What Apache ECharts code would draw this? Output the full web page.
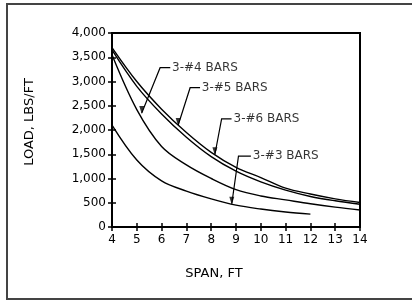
<!DOCTYPE html>
<html>
<head>
<meta charset="utf-8">
<script src="https://cdn.jsdelivr.net/npm/echarts@6/dist/echarts.min.js"></script>
<style>
html, body { margin: 0; padding: 0; background: #fff; overflow: hidden; }
#chart { width: 412px; height: 304px; }
</style>
</head>
<body>
<div id="chart"></div>
<script>
// span (ft) and load (lbs/ft)
var spans = [4, 5, 6, 7, 8, 9, 10, 11, 12, 13, 14];
var bars6 = [3700, 3000, 2430, 1950, 1540, 1230, 1020, 800, 680, 580, 505];
var bars5 = [3650, 2900, 2330, 1850, 1450, 1150, 930, 760, 630, 540, 470];
var bars4 = [3550, 2420, 1660, 1280, 1000, 770, 640, 560, 480, 410, 350];
var bars3 = [2100, 1380, 950, 740, 580, 450, 370, 310, 265];

var yTicks = [0, 500, 1000, 1500, 2000, 2500, 3000, 3500, 4000];

// callout leaders: text end -> corner -> point on curve
var leader4 = [[6.35, 3285], [5.94, 3285], [5.2, 2350]];
var leader5 = [[7.55, 2872], [7.15, 2872], [6.67, 2103]];
var leader6 = [[8.82, 2230], [8.42, 2230], [8.15, 1500]];
var leader3 = [[9.6, 1460], [9.1, 1460], [8.83, 480]];
var callouts = [
    [6.42, 3285, '3-#4 BARS'],
    [7.62, 2872, '3-#5 BARS'],
    [8.9, 2230, '3-#6 BARS'],
    [9.68, 1460, '3-#3 BARS']
];

var font = 'DejaVu Sans';

function pairs(ys) {
    var out = [];
    for (var i = 0; i < ys.length; i++) {
        out.push([spans[i], ys[i]]);
    }
    return out;
}

function curve(name, ys) {
    return {
        name: name,
        type: 'line',
        data: pairs(ys),
        smooth: 0.35,
        symbol: 'none',
        lineStyle: { color: '#000', width: 1.4 },
        silent: true
    };
}

var leaders = [leader4, leader5, leader6, leader3];
var tips = leaders.map(function (l) { return l[l.length - 1]; });

// second copy of each axis only carries the inward half of the "+" ticks
var xInner = {
    type: 'value', min: 4, max: 14, interval: 1, position: 'bottom',
    axisLine: { show: false },
    axisTick: { inside: true, length: 4, lineStyle: { color: '#000', width: 1.5 } },
    axisLabel: { show: false },
    splitLine: { show: false }
};
var yInner = {
    type: 'value', min: 0, max: 4000, interval: 500, position: 'left',
    axisLine: { show: false },
    axisTick: { inside: true, length: 4, lineStyle: { color: '#000', width: 1.5 } },
    axisLabel: { show: false },
    splitLine: { show: false }
};

var chart = echarts.init(document.getElementById('chart'), null, { renderer: 'canvas' });

chart.setOption({
    animation: false,
    backgroundColor: '#fff',
    graphic: [{
        type: 'polyline',
        shape: { points: [[440, 4], [7, 4], [7, 299], [440, 299]] },
        style: { fill: 'none', stroke: '#444', lineWidth: 2 }
    }],
    grid: {
        left: 112, top: 33, right: 52, bottom: 77,
        show: true, borderColor: '#000', borderWidth: 2
    },
    xAxis: [{
        type: 'value',
        min: 4, max: 14, interval: 1,
        name: 'SPAN, FT',
        nameLocation: 'middle',
        nameGap: 40,
        nameTextStyle: { fontFamily: font, fontSize: 13, color: '#000', padding: [0, 44, 0, 0] },
        axisLine: { lineStyle: { color: '#000', width: 2 } },
        axisTick: { length: 4, lineStyle: { color: '#000', width: 1.5 } },
        axisLabel: { fontFamily: font, fontSize: 12, color: '#000', margin: 7 },
        splitLine: { show: false }
    }, xInner],
    yAxis: [{
        type: 'value',
        min: 0, max: 4000, interval: 500,
        name: 'LOAD, LBS/FT',
        nameLocation: 'middle',
        nameGap: 76,
        nameTextStyle: { fontFamily: font, fontSize: 13, color: '#000', padding: [0, 0, 0, 16] },
        axisLine: { lineStyle: { color: '#000', width: 2 } },
        axisTick: { length: 4, lineStyle: { color: '#000', width: 1.5 } },
        axisLabel: {
            fontFamily: font, fontSize: 12, color: '#000', margin: 6,
            formatter: function (v) {
                return yTicks.indexOf(v) >= 0 ? v.toLocaleString('en-US') : '';
            }
        },
        splitLine: { show: false }
    }, yInner],
    series: [
        curve('3-#6 BARS', bars6),
        curve('3-#5 BARS', bars5),
        curve('3-#4 BARS', bars4),
        curve('3-#3 BARS', bars3),
        {
            type: 'lines',
            coordinateSystem: 'cartesian2d',
            polyline: true,
            silent: true,
            lineStyle: { color: '#000', width: 1.2, opacity: 1 },
            data: leaders.map(function (l) { return { coords: l }; })
        },
        {
            type: 'scatter',
            symbol: 'triangle',
            symbolRotate: 180,
            symbolSize: [5, 8],
            symbolOffset: [0, -3],
            silent: true,
            itemStyle: { color: '#000' },
            data: tips
        },
        {
            type: 'scatter',
            symbolSize: 0,
            silent: true,
            data: callouts,
            label: {
                show: true,
                position: 'right',
                distance: 0,
                fontFamily: font,
                fontSize: 12,
                color: '#000',
                formatter: function (p) { return p.data[2]; }
            }
        }
    ]
});
</script>
</body>
</html>
